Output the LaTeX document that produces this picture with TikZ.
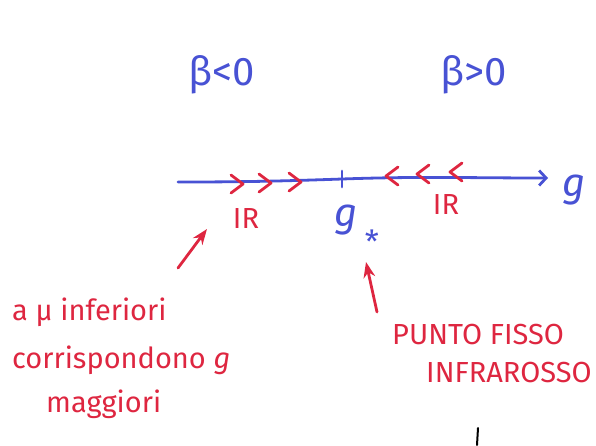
\documentclass[tikz,border=0pt]{standalone}
\usepackage{fontspec}
\setsansfont{Fira Sans}
\usetikzlibrary{arrows.meta}

\definecolor{inkblue}{RGB}{72,82,212}
\definecolor{inkred}{RGB}{222,38,64}

\tikzset{
  blueink/.style={draw=inkblue,line width=2.8pt,line cap=round},
  redink/.style={draw=inkred,line width=2.8pt,line cap=round,line join=round},
  bluetext/.style={text=inkblue,font=\sffamily\fontsize{40}{44}\selectfont,inner sep=0pt},
  redtext/.style={text=inkred,font=\sffamily\fontsize{29}{33}\selectfont,inner sep=0pt,anchor=west},
}

\begin{document}
\begin{tikzpicture}[x=1pt,y=-1pt,>=Stealth]
  \useasboundingbox (0,0) rectangle (596,445);
  % asse di g
  \coordinate (ax0) at (178,182);
  \coordinate (fix) at (342,179);
  \coordinate (ax1) at (548,178);
  \node[bluetext] (gax) at (574,190) {\itshape g};
  \draw[blueink,-{Straight Barb[length=7pt,width=15pt]}] (ax0) to[out=0,in=182] (fix)
    to[out=2,in=180] (ax1);
  \draw[blueink] ([yshift=-8pt]fix) -- ([yshift=8pt]fix);
  % regioni
  \node[bluetext] (bneg) at (222,75) {β<0};
  \node[bluetext] (bpos) at (474,75) {β>0};
  % flusso verso g*
  \foreach \x/\y in {237/184,265/183,295/182}
    \draw[redink] (\x-6,\y-9) -- (\x+6,\y) -- (\x-6,\y+9);
  \foreach \x/\y in {392/176,423/174,456/172}
    \draw[redink] (\x+6,\y-9) -- (\x-6,\y) -- (\x+6,\y+9);
  \node[redtext,anchor=center] (irl) at (246,219) {IR};
  \node[redtext,anchor=center] (irr) at (446,205) {IR};
  \node[bluetext] (gstar) at (346,220) {\itshape g};
  \node[bluetext,font=\sffamily\fontsize{32}{34}\selectfont]
    (star) at ([xshift=26pt,yshift=-22pt]gstar.center) {*};
  % note
  \node[redtext] (mu1) at (12,312) {a μ inferiori};
  \node[redtext] (mu2) at (12,360) {corrispondono \textit{g}};
  \node[redtext] (mu3) at (46,404) {maggiori};
  \node[redtext] (pf1) at (392,334) {PUNTO FISSO};
  \node[redtext] (pf2) at (426,372) {INFRAROSSO};
  \coordinate (a1) at (178,268);
  \coordinate (a2) at (377,312);
  \draw[redink,->] (a1) -- (207,229);
  \draw[redink,->] (a2) -- (366,262);
  % segno a matita
  \draw[line width=2pt,line cap=round] (478,428) -- (477,445);
\end{tikzpicture}
\end{document}
